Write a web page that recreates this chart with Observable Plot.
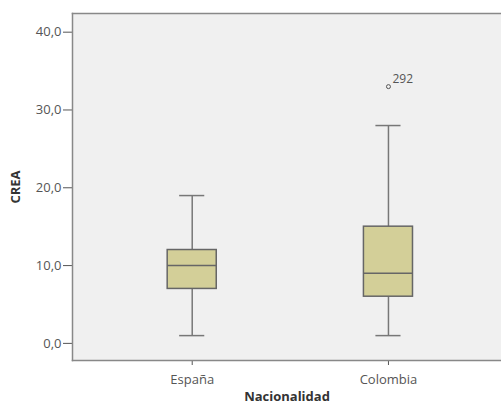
<!DOCTYPE html>
<html>
<head>
<meta charset="utf-8">
<script src="https://cdn.jsdelivr.net/npm/d3@7"></script>
<script src="https://cdn.jsdelivr.net/npm/@observablehq/plot@0.6"></script>
<style>
  html, body { margin: 0; padding: 0; background: #fff; }
  #chart svg { display: block; }
</style>
</head>
<body>
<div id="chart"></div>
<script>
const categories = ["España", "Colombia"];
const whiskerLow = [1, 1];
const q1 = [7, 6];
const median = [10, 9];
const q3 = [12, 15];
const whiskerHigh = [19, 28];
const outlierValues = [{cat: 1, value: 33, label: "292"}];
const yTicks = [0, 10, 20, 30, 40];

const boxes = categories.map((c, i) => ({
  i, name: c, lo: whiskerLow[i], q1: q1[i], med: median[i], q3: q3[i], hi: whiskerHigh[i]
}));

const boxHalf = 0.125;
const capHalf = 0.064;
const font = "'Open Sans', 'Lato', sans-serif";

const chart = Plot.plot({
  width: 501,
  height: 406,
  marginLeft: 72,
  marginRight: 0,
  marginTop: 13,
  marginBottom: 46,
  style: {fontFamily: font, fontSize: "13px", color: "#555", background: "#fff"},
  x: {
    type: "linear",
    domain: [-0.61, 1.576],
    ticks: categories.map((_, i) => i),
    tickFormat: i => categories[i],
    tickSize: 5,
    tickPadding: 9,
    label: "Nacionalidad",
    labelAnchor: "center",
    labelArrow: "none",
    labelOffset: 40
  },
  y: {
    domain: [-2.2, 42.4],
    ticks: yTicks,
    tickFormat: d => d.toFixed(1).replace(".", ","),
    tickSize: 9,
    tickPadding: 2,
    label: "CREA",
    labelAnchor: "center",
    labelArrow: "none",
    labelOffset: 62
  },
  marks: [
    Plot.frame({fill: "#f0f0f0", stroke: null}),
    Plot.frame({anchor: "left", stroke: "#888", strokeWidth: 1.5}),
    Plot.frame({anchor: "top", stroke: "#888", strokeWidth: 1.5}),
    Plot.frame({anchor: "bottom", stroke: "#888", strokeWidth: 1.5}),
    Plot.ruleX(boxes, {x: "i", y1: "lo", y2: "q1", stroke: "#777", strokeWidth: 1.5}),
    Plot.ruleX(boxes, {x: "i", y1: "q3", y2: "hi", stroke: "#777", strokeWidth: 1.5}),
    Plot.ruleY(boxes, {y: "lo", x1: d => d.i - capHalf, x2: d => d.i + capHalf, stroke: "#777", strokeWidth: 1.5}),
    Plot.ruleY(boxes, {y: "hi", x1: d => d.i - capHalf, x2: d => d.i + capHalf, stroke: "#777", strokeWidth: 1.5}),
    Plot.rect(boxes, {x1: d => d.i - boxHalf, x2: d => d.i + boxHalf, y1: "q1", y2: "q3", fill: "#d3cf98", stroke: "#666", strokeWidth: 1.5}),
    Plot.ruleY(boxes, {y: "med", x1: d => d.i - boxHalf, x2: d => d.i + boxHalf, stroke: "#666", strokeWidth: 1.5}),
    Plot.dot(outlierValues, {x: "cat", y: "value", r: 2, stroke: "#555", fill: "none", strokeWidth: 1}),
    Plot.text(outlierValues, {x: "cat", y: "value", text: "label", dx: 4, dy: -7, textAnchor: "start", fill: "#555", fontSize: 12})
  ]
});

chart.querySelectorAll('[aria-label="x-axis label"] text, [aria-label="y-axis label"] text').forEach(t => {
  t.setAttribute("font-weight", "bold");
  t.setAttribute("fill", "#333");
});
document.getElementById("chart").appendChild(chart);
</script>
</body>
</html>
